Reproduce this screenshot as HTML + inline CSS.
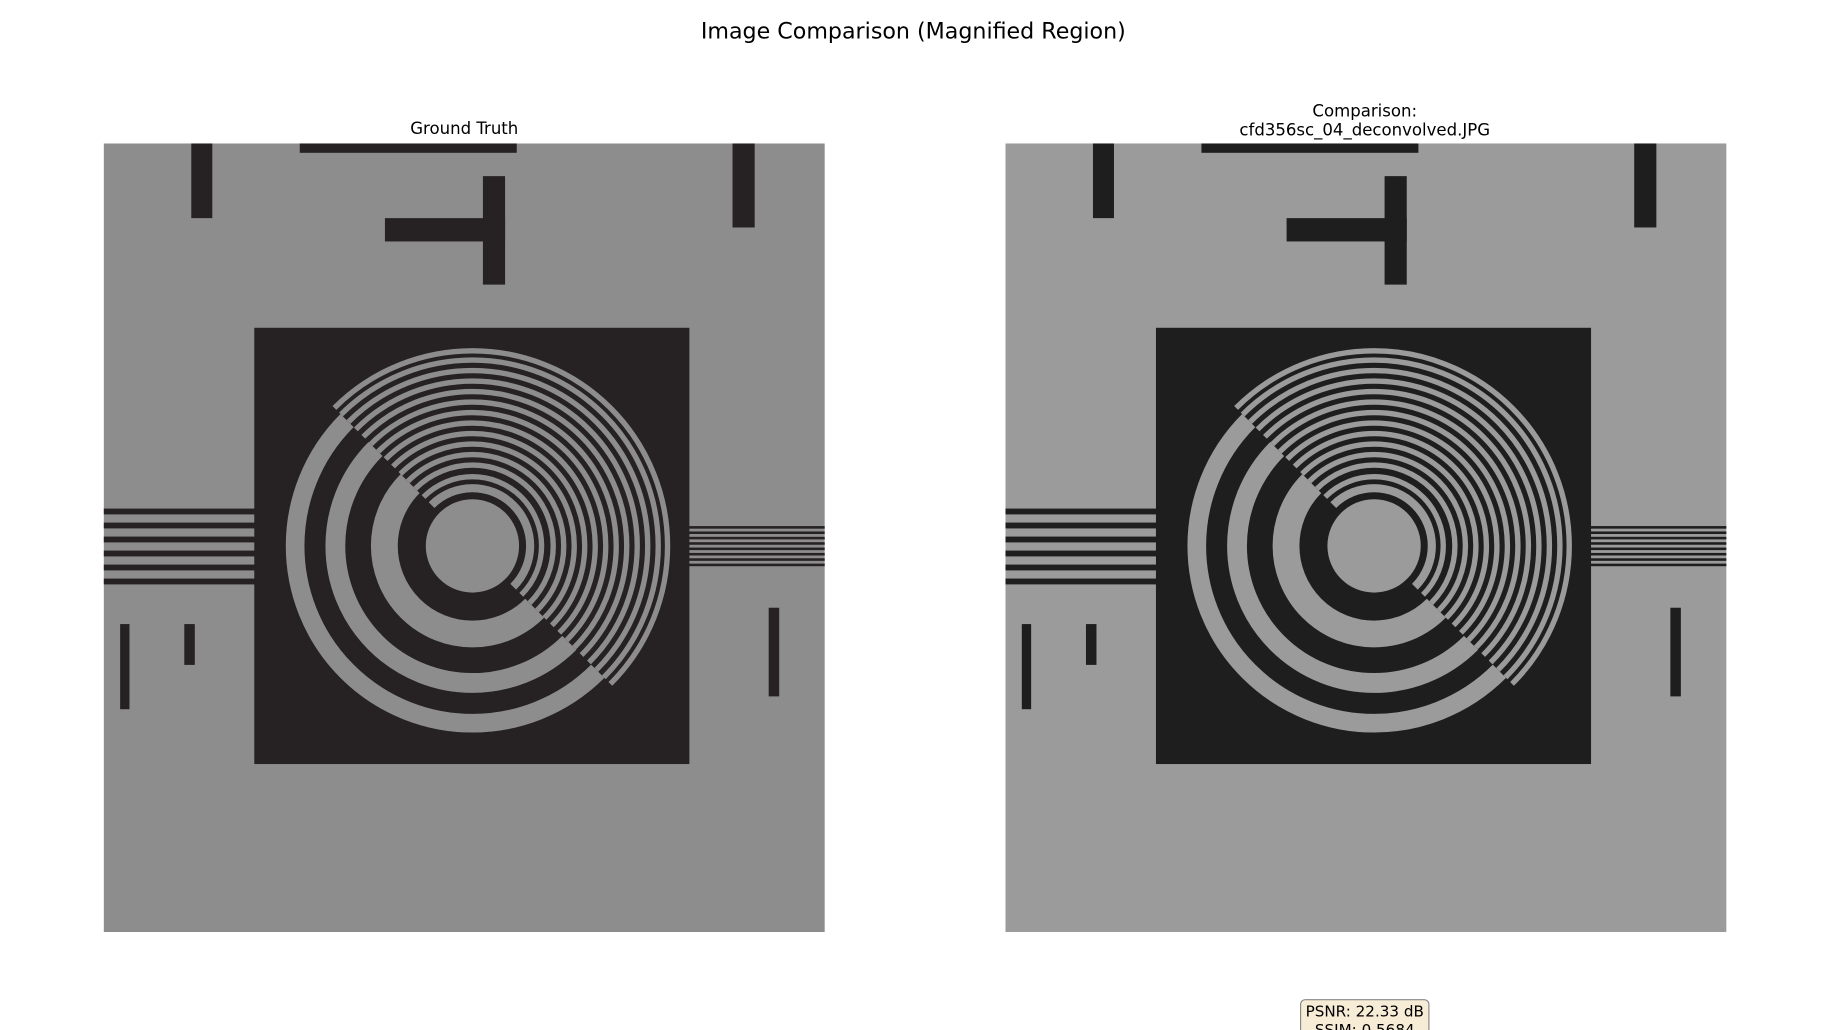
<!DOCTYPE html>
<html><head><meta charset="utf-8"><style>
html,body{margin:0;padding:0;background:#fff;}
svg{display:block;font-family:"DejaVu Sans","Liberation Sans",sans-serif;}
</style></head><body>
<svg id="fig" width="1829" height="1030" viewBox="0 0 1568 883" preserveAspectRatio="none" xmlns="http://www.w3.org/2000/svg">
<text x="783" y="27" font-size="19" text-anchor="middle" dominant-baseline="central" fill="#000">Image Comparison (Magnified Region)</text>
<text x="398" y="110" font-size="14.2" text-anchor="middle" dominant-baseline="central" fill="#000">Ground Truth</text>
<text x="1170" y="110" font-size="14.2" text-anchor="middle" fill="#000"><tspan x="1170" y="100">Comparison:</tspan><tspan x="1170" y="116">cfd356sc_04_deconvolved.JPG</tspan></text>
<g id="left" transform="translate(89,123)"></g>
<g id="right" transform="translate(862,123)"></g>
<g>
<rect x="1115" y="857" width="110" height="40" rx="4" fill="#f7ecd6" stroke="#888" stroke-width="1"/>
<text x="1170" y="867" font-size="13" text-anchor="middle" dominant-baseline="central" fill="#000">PSNR: 22.33 dB</text>
<text x="1170" y="883" font-size="13" text-anchor="middle" dominant-baseline="central" fill="#000">SSIM: 0.5684</text>
</g>
</svg>
<script>
const NS="http://www.w3.org/2000/svg";
const thickBands=[[64,87],[109,126],[144,160]];
const thinStart=[46,57,67,76,85,94,103,112,121,130,139,148,157,165];
function mk(tag,attrs,parent){const e=document.createElementNS(NS,tag);for(const k in attrs)e.setAttribute(k,attrs[k]);parent.appendChild(e);return e;}
function build(g,id,gray,dark){
  mk('rect',{x:0,y:0,width:618,height:676,fill:gray},g);
  const rects=[[75,0,18,64],[168,0,186,8],[539,0,19,72],[241,64,103,20],[325,28,19,93],[14,412,8,73],[69,412,9,35],[570,398,9,76]];
  rects.forEach(r=>mk('rect',{x:r[0],y:r[1],width:r[2],height:r[3],fill:dark},g));
  for(let i=0;i<6;i++)mk('rect',{x:0,y:313+i*12,width:130,height:5,fill:dark},g);
  for(let i=0;i<8;i++)mk('rect',{x:500,y:328+i*4.6,width:118,height:2.2,fill:dark},g);
  mk('rect',{x:129,y:158,width:373,height:374,fill:dark},g);
  const cx=316,cy=345;
  const c1=mk('clipPath',{id:id+'LL'},g);
  mk('polygon',{points:`${cx-300},${cy-300} ${cx+300},${cy+300} ${cx-300},${cy+300}`},c1);
  const c2=mk('clipPath',{id:id+'UR'},g);
  mk('polygon',{points:`${cx-300},${cy-300} ${cx+300},${cy+300} ${cx+300},${cy-300}`},c2);
  const ll=mk('g',{'clip-path':`url(#${id}LL)`},g);
  thickBands.forEach(b=>{const r=(b[0]+b[1])/2;mk('circle',{cx,cy,r,fill:'none',stroke:gray,'stroke-width':b[1]-b[0]},ll);});
  const ur=mk('g',{'clip-path':`url(#${id}UR)`},g);
  thinStart.forEach((s,i)=>{const w=i===0?7:4.6;mk('circle',{cx,cy,r:s+w/2,fill:'none',stroke:gray,'stroke-width':w},ur);});
  mk('circle',{cx,cy,r:40,fill:gray},g);
}
build(document.getElementById('left'),'l','#8d8d8d','#262123');
build(document.getElementById('right'),'r','#9b9b9b','#1f1e1f');
</script>
</body></html>
